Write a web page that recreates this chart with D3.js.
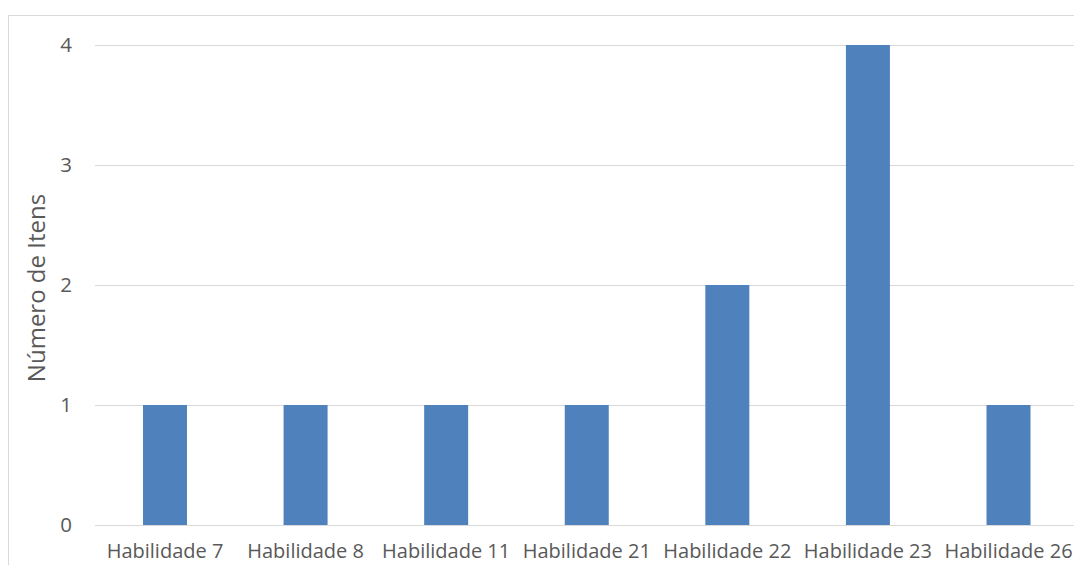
<!DOCTYPE html>
<html><head><meta charset="utf-8">
<script src="https://cdn.jsdelivr.net/npm/d3@7"></script>
<style>html,body{margin:0;padding:0;background:#fff;}svg{display:block;}</style>
</head><body>
<svg id="c" width="1074" height="565"></svg>
<script>
const categories = ["Habilidade 7","Habilidade 8","Habilidade 11","Habilidade 21","Habilidade 22","Habilidade 23","Habilidade 26"];
const values = [1,1,1,1,2,4,1];
const yTicks = [0,1,2,3,4];
const yTitle = "Número de Itens";

const svg = d3.select("#c");
const font = "'Open Sans', sans-serif";
const textColor = "#595959";

// chart border
svg.append("rect").attr("x",8.5).attr("y",15.5).attr("width",1100).attr("height",600)
  .attr("fill","none").attr("stroke","#d9d9d9").attr("stroke-width",1);

const x = d3.scaleBand().domain(categories).range([94.7,1078.8]).paddingInner(0.687).paddingOuter(0.3435);
const y = d3.scaleLinear().domain([0,4]).range([525,45]);

// gridlines
svg.append("g").selectAll("line").data(yTicks).join("line")
  .attr("x1",95).attr("x2",1074).attr("y1",d=>Math.round(y(d))+0.5).attr("y2",d=>Math.round(y(d))+0.5)
  .attr("stroke","#d9d9d9").attr("stroke-width",1);

// bars
svg.append("g").selectAll("rect").data(values).join("rect")
  .attr("x",(d,i)=>x(categories[i])).attr("width",x.bandwidth())
  .attr("y",d=>y(d)).attr("height",d=>y(0)-y(d)).attr("fill","#4f81bd");

// y axis labels
const yAxis = d3.axisLeft(y).tickValues(yTicks).tickSize(0).tickPadding(0).tickFormat(d3.format("d"));
const ya = svg.append("g").attr("transform","translate(72,0)").call(yAxis);
ya.select(".domain").remove();
ya.selectAll("text").attr("fill",textColor).style("font-family",font).style("font-size","20.5px");

// x axis labels
const xAxis = d3.axisBottom(x).tickSize(0).tickPadding(0);
const xa = svg.append("g").attr("transform","translate(0,544)").call(xAxis);
xa.select(".domain").remove();
xa.selectAll("text").attr("fill",textColor).style("font-family",font).style("font-size","20px");

// y title
svg.append("text").attr("transform","translate(45,288) rotate(-90)").attr("text-anchor","middle")
  .attr("fill",textColor).style("font-family",font).style("font-size","24px").text(yTitle);
</script>
</body></html>
